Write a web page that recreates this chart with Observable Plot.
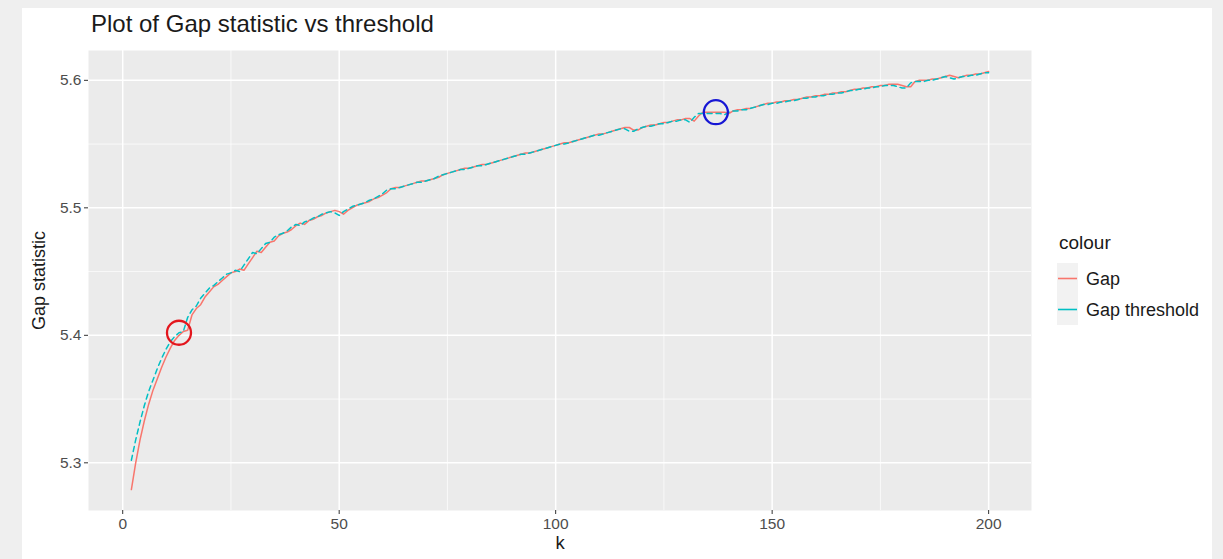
<!DOCTYPE html>
<html><head><meta charset="utf-8">
<script src="https://cdn.jsdelivr.net/npm/d3@7"></script>
<script src="https://cdn.jsdelivr.net/npm/@observablehq/plot@0.6"></script>
<style>
body{margin:0;background:#efefef;font-family:"Liberation Sans",Arial,sans-serif;width:1223px;height:559px;overflow:hidden;position:relative;}
#card{position:absolute;left:22px;top:8px;width:1190px;height:551px;background:#fff;}
#title{position:absolute;left:91px;top:12px;font-size:24px;line-height:1;color:#1a1a1a;white-space:nowrap;}
#chart{position:absolute;left:0;top:0;}
#legend{position:absolute;left:1057px;top:0;width:166px;height:559px;}
.lt{position:absolute;left:2px;top:233px;font-size:19px;line-height:1;color:#1a1a1a;}
.lk{position:absolute;left:0;width:21px;height:31px;background:#f2f2f2;}
.lx{position:absolute;left:29px;font-size:18px;line-height:1;color:#1a1a1a;white-space:nowrap;}
</style></head>
<body>
<div id="card"></div>
<div id="title">Plot of Gap statistic vs threshold</div>
<div id="chart"></div>
<div id="legend"></div>
<script>
// Series names and colours
const seriesNames = ["Gap", "Gap threshold"];
const seriesColors = ["#F8766D", "#00BFC4"];

// Gap statistic, k = 2 .. 200
const gap = [
5.279,5.300,5.318,5.333,5.346,5.357,5.366,5.375,5.383,5.390,
5.396,5.400,5.403,5.404,5.416,5.421,5.424,5.430,5.434,5.438,
5.440,5.443,5.446,5.449,5.450,5.452,5.451,5.456,5.461,5.466,
5.465,5.469,5.473,5.474,5.478,5.480,5.481,5.483,5.486,5.488,
5.487,5.490,5.491,5.493,5.494,5.496,5.497,5.498,5.497,5.495,
5.498,5.500,5.502,5.503,5.504,5.505,5.507,5.508,5.510,5.512,
5.515,5.516,5.516,5.517,5.518,5.519,5.520,5.521,5.521,5.522,
5.523,5.524,5.526,5.527,5.528,5.529,5.530,5.531,5.531,5.532,
5.533,5.534,5.534,5.535,5.536,5.537,5.538,5.539,5.540,5.541,
5.542,5.543,5.543,5.544,5.545,5.546,5.547,5.548,5.549,5.550,
5.551,5.551,5.552,5.553,5.554,5.555,5.556,5.557,5.558,5.558,
5.559,5.560,5.561,5.562,5.563,5.563,5.561,5.561,5.563,5.564,
5.565,5.565,5.566,5.567,5.567,5.568,5.569,5.569,5.570,5.570,
5.568,5.572,5.575,5.575,5.575,5.575,5.575,5.575,5.574,5.576,
5.577,5.577,5.578,5.578,5.579,5.580,5.581,5.582,5.582,5.583,
5.583,5.584,5.584,5.585,5.585,5.586,5.587,5.587,5.588,5.588,
5.589,5.589,5.590,5.590,5.591,5.591,5.592,5.593,5.593,5.594,
5.594,5.595,5.595,5.596,5.596,5.597,5.597,5.597,5.596,5.595,
5.595,5.599,5.600,5.600,5.600,5.601,5.601,5.602,5.603,5.604,
5.603,5.602,5.603,5.604,5.604,5.605,5.605,5.606,5.607
];

// Gap threshold, k = 2 .. 200
const threshold = [
5.302,5.318,5.332,5.345,5.356,5.365,5.374,5.382,5.389,5.395,
5.399,5.402,5.403,5.414,5.420,5.423,5.429,5.433,5.437,5.439,
5.442,5.445,5.448,5.449,5.451,5.450,5.455,5.460,5.465,5.464,
5.468,5.472,5.473,5.477,5.479,5.480,5.482,5.485,5.487,5.486,
5.489,5.490,5.492,5.493,5.495,5.496,5.497,5.496,5.494,5.497,
5.499,5.501,5.502,5.503,5.504,5.506,5.507,5.509,5.511,5.514,
5.515,5.515,5.516,5.517,5.518,5.519,5.520,5.520,5.521,5.522,
5.523,5.525,5.526,5.527,5.528,5.529,5.530,5.530,5.531,5.532,
5.533,5.533,5.534,5.535,5.536,5.537,5.538,5.539,5.540,5.541,
5.542,5.542,5.543,5.544,5.545,5.546,5.547,5.548,5.549,5.550,
5.550,5.551,5.552,5.553,5.554,5.555,5.556,5.557,5.557,5.558,
5.559,5.560,5.561,5.562,5.562,5.560,5.560,5.562,5.563,5.564,
5.564,5.565,5.566,5.566,5.567,5.568,5.568,5.569,5.569,5.567,
5.571,5.574,5.574,5.574,5.574,5.574,5.574,5.573,5.575,5.576,
5.576,5.577,5.577,5.578,5.579,5.580,5.581,5.581,5.582,5.582,
5.583,5.583,5.584,5.584,5.585,5.586,5.586,5.587,5.587,5.588,
5.588,5.589,5.589,5.590,5.590,5.591,5.592,5.592,5.593,5.593,
5.594,5.594,5.595,5.595,5.596,5.596,5.596,5.595,5.594,5.594,
5.598,5.599,5.599,5.599,5.600,5.600,5.601,5.602,5.603,5.602,
5.601,5.602,5.603,5.603,5.604,5.604,5.605,5.606,5.606
];

// Highlighted points (circles)
const markK = [13, 137];
const markV = [5.402, 5.575];
const markColors = ["#e3161d", "#1616d4"];

// Tick labels
const xTicks = [0, 50, 100, 150, 200];
const xMinor = [25, 75, 125, 175];
const yTicks = [5.3, 5.4, 5.5, 5.6];
const yMinor = [5.35, 5.45, 5.55];

const gapData = gap.map((v, i) => ({k: i + 2, v}));
const thrData = threshold.map((v, i) => ({k: i + 2, v}));

const font = "Liberation Sans, Arial, sans-serif";
const chart = Plot.plot({
  width: 1223, height: 559,
  marginLeft: 88, marginRight: 192, marginTop: 50, marginBottom: 49,
  style: {background: "transparent", fontFamily: font},
  x: {domain: [-7.9, 209.9]},
  y: {domain: [5.2626, 5.6234]},
  marks: [
    Plot.frame({fill: "#ebebeb", stroke: null}),
    Plot.ruleX(xMinor, {stroke: "#ffffff", strokeWidth: 0.7}),
    Plot.ruleY(yMinor, {stroke: "#ffffff", strokeWidth: 0.7}),
    Plot.ruleX(xTicks, {stroke: "#ffffff", strokeWidth: 1.5}),
    Plot.ruleY(yTicks, {stroke: "#ffffff", strokeWidth: 1.5}),
    Plot.axisX({ticks: xTicks, tickFormat: d => String(d), tickSize: 4, tickPadding: 3, fontSize: 15.5, label: null, stroke: "#333333", fill: "#4d4d4d"}),
    Plot.axisY({ticks: yTicks, tickFormat: d => d.toFixed(1), tickSize: 4, tickPadding: 3, fontSize: 15.5, label: null, stroke: "#333333", fill: "#4d4d4d"}),
    Plot.line(gapData, {x: "k", y: "v", stroke: seriesColors[0], strokeWidth: 1.5}),
    Plot.line(thrData, {x: "k", y: "v", stroke: seriesColors[1], strokeWidth: 1.5, strokeDasharray: "5,4"}),
    Plot.dot([0], {x: markK[0], y: markV[0], r: 12, stroke: markColors[0], strokeWidth: 2.3, fill: "none"}),
    Plot.dot([0], {x: markK[1], y: markV[1], r: 12, stroke: markColors[1], strokeWidth: 2.3, fill: "none"}),
    Plot.text(["k"], {text: d => d, frameAnchor: "bottom", dy: 38, fontSize: 18.5, fill: "#1a1a1a"}),
    Plot.text(["Gap statistic"], {text: d => d, frameAnchor: "left", textAnchor: "middle", dx: -49, rotate: -90, fontSize: 18, fill: "#1a1a1a"})
  ]
});
document.getElementById("chart").appendChild(chart);

// Legend
const lg = document.getElementById("legend");
const t = document.createElement("div");
t.className = "lt"; t.textContent = "colour"; lg.appendChild(t);
seriesNames.forEach((name, i) => {
  const top = 263 + i * 31;
  const key = document.createElement("div");
  key.className = "lk"; key.style.top = top + "px";
  key.innerHTML = `<svg width="21" height="31"><line x1="1" x2="20" y1="15.5" y2="15.5" stroke="${seriesColors[i]}" stroke-width="1.6"></line></svg>`;
  lg.appendChild(key);
  const lab = document.createElement("div");
  lab.className = "lx"; lab.style.top = (top + 7) + "px"; lab.textContent = name;
  lg.appendChild(lab);
});
</script>
</body></html>
